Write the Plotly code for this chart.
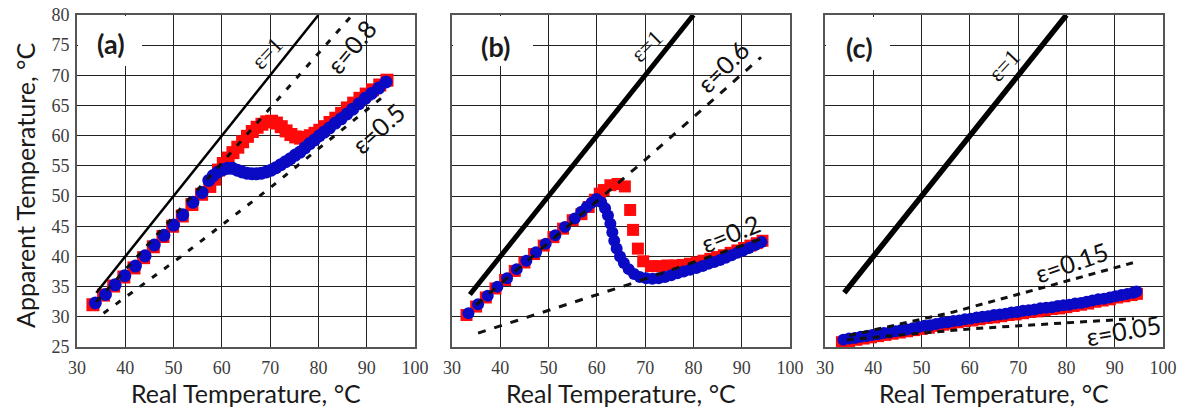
import plotly.graph_objects as go

W, H = 1189, 412

# ---------------- panel (a) ----------------
a_red_x = [33.3, 35.5, 37.6, 39.7, 41.8, 43.8, 45.8, 47.8, 49.8, 51.8, 53.8, 55.8, 57.5, 58.5,
           59.3, 60.3, 61.3, 62.3, 63.3, 64.3, 65.3, 66.3, 67.3, 68.3, 69.3, 70.3, 71.3, 72.3,
           73.3, 74.3, 75.3, 76.3, 77.3, 78.3, 79.3, 80.3, 81.3, 82.4, 83.6, 84.8, 86.0, 87.3,
           88.6, 89.9, 91.2, 92.7, 94.2]
a_red_y = [32.0, 33.6, 35.1, 36.6, 38.1, 39.8, 41.6, 43.3, 45.0, 46.7, 48.6, 50.3, 51.6, 52.8,
           54.3, 55.4, 56.3, 57.2, 58.1, 59.0, 59.9, 60.7, 61.4, 61.9, 62.3, 62.4, 62.1, 61.5,
           60.8, 60.2, 59.8, 59.6, 59.7, 60.0, 60.4, 60.9, 61.5, 62.2, 62.9, 63.7, 64.6, 65.4,
           66.2, 66.9, 67.6, 68.4, 69.2]
a_blue_x = [33.8, 35.9, 37.9, 39.9, 42.1, 44.1, 46.0, 48.0, 50.0, 51.9, 54.0, 55.9, 57.3, 58.2,
            59.2, 60.2, 61.2, 62.2, 63.2, 64.2, 65.2, 66.2, 67.2, 68.2, 69.2, 70.2, 71.2, 72.2,
            73.2, 74.2, 75.2, 76.2, 77.2, 78.2, 79.2, 80.2, 81.2, 82.3, 83.5, 84.7, 85.9, 87.1,
            88.4, 89.7, 91.0, 92.5, 94.0]
a_blue_y = [32.3, 33.7, 35.3, 36.8, 38.4, 40.1, 41.9, 43.5, 45.2, 46.9, 49.0, 50.6, 52.6, 53.4,
            54.0, 54.4, 54.6, 54.6, 54.3, 54.0, 53.8, 53.7, 53.7, 53.8, 54.0, 54.3, 54.7, 55.2,
            55.7, 56.2, 56.8, 57.3, 58.0, 58.7, 59.3, 60.0, 60.6, 61.3, 62.1, 62.8, 63.6, 64.4,
            65.3, 66.2, 67.0, 67.9, 68.9]
a_eps1_x, a_eps1_y = [34.0, 80.0], [34.0, 80.0]
a_eps08_x, a_eps08_y = [34.0, 60.0, 87.0], [32.5, 55.5, 80.0]
a_eps05_x, a_eps05_y = [35.5, 51.4, 69.4, 83.1, 94.2], [30.6, 39.9, 51.0, 59.8, 67.0]

# ---------------- panel (b) ----------------
b_red_x = [33.0, 35.0, 37.0, 39.0, 41.0, 43.0, 45.0, 47.0, 49.0, 51.0, 53.0, 55.0, 56.8, 58.3,
           59.6, 60.6, 61.4, 62.8, 64.3, 65.8, 66.9, 67.5, 68.5, 69.6, 71.2, 72.9, 74.6, 76.3,
           77.8, 79.3, 80.7, 82.1, 83.5, 84.9, 86.3, 87.7, 89.1, 90.5, 91.8, 93.1, 94.3]
b_red_y = [30.3, 31.7, 33.2, 34.7, 36.1, 37.6, 39.0, 40.4, 41.8, 43.2, 44.6, 46.0, 47.0, 48.2,
           49.4, 50.4, 51.0, 51.8, 52.0, 51.6, 47.7, 44.4, 41.3, 39.2, 38.4, 38.4, 38.5, 38.5,
           38.6, 38.8, 39.0, 39.3, 39.6, 39.9, 40.2, 40.6, 41.0, 41.4, 41.8, 42.2, 42.6]
b_blue_x = [33.4, 35.4, 37.4, 39.4, 41.4, 43.4, 45.4, 47.4, 49.4, 51.4, 53.4, 55.4, 56.8, 57.9,
            58.9, 59.9, 60.9, 61.7, 62.3, 62.8, 63.2, 63.6, 64.1, 64.8, 65.6, 66.6, 67.7, 68.9,
            70.2, 71.5, 72.8, 74.1, 75.4, 76.7, 78.0, 79.3, 80.6, 81.9, 83.1, 84.3, 85.5, 86.7,
            87.9, 89.1, 90.3, 91.5, 92.8, 94.1]
b_blue_y = [30.6, 32.1, 33.5, 35.0, 36.4, 37.9, 39.3, 40.7, 42.1, 43.5, 44.9, 46.3, 47.4, 48.2,
            48.9, 49.5, 49.0, 48.0, 46.8, 45.4, 44.0, 42.6, 41.3, 40.0, 38.9, 37.9, 37.1, 36.6,
            36.4, 36.3, 36.4, 36.6, 36.9, 37.2, 37.5, 37.8, 38.1, 38.4, 38.8, 39.1, 39.4, 39.8,
            40.2, 40.6, 41.0, 41.4, 41.9, 42.4]
b_eps1_x, b_eps1_y = [33.7, 80.0], [33.7, 80.0]
b_eps06_x, b_eps06_y = [35.0, 70.0, 94.0], [32.0, 56.0, 73.0]
b_eps02_x, b_eps02_y = [35.4, 67.5, 94.4], [27.3, 35.6, 43.0]

# ---------------- panel (c) ----------------
c_red_x = [33.5, 35.0, 36.5, 38.0, 39.5, 41.0, 42.5, 44.0, 45.5, 47.0, 48.5, 50.0, 51.5, 53.0,
           54.5, 56.0, 57.5, 59.0, 60.5, 62.0, 63.5, 65.0, 66.5, 68.0, 69.5, 71.0, 72.5, 74.0,
           75.5, 77.0, 78.5, 80.0, 81.5, 83.0, 84.5, 86.0, 87.5, 89.0, 90.5, 92.0, 93.5, 94.6]
c_red_y = [25.8, 26.0, 26.2, 26.4, 26.6, 26.8, 27.0, 27.2, 27.4, 27.6, 27.8, 28.0, 28.2, 28.5,
           28.7, 28.9, 29.1, 29.3, 29.4, 29.6, 29.8, 29.9, 30.1, 30.3, 30.4, 30.6, 30.8, 30.9,
           31.1, 31.3, 31.4, 31.6, 31.8, 32.0, 32.2, 32.5, 32.7, 32.9, 33.2, 33.4, 33.6, 33.8]
c_blue_x = [33.8, 35.0, 36.2, 37.4, 38.6, 39.8, 41.0, 42.2, 43.4, 44.6, 45.8, 47.0, 48.2, 49.4,
            50.6, 51.8, 53.0, 54.2, 55.4, 56.6, 57.8, 59.0, 60.2, 61.4, 62.6, 63.8, 65.0, 66.2,
            67.4, 68.6, 69.8, 71.0, 72.2, 73.4, 74.6, 75.8, 77.0, 78.2, 79.4, 80.6, 81.8, 83.0,
            84.2, 85.4, 86.6, 87.8, 89.0, 90.2, 91.4, 92.6, 93.8, 94.5]
c_blue_y = [26.2, 26.4, 26.5, 26.7, 26.8, 27.0, 27.1, 27.3, 27.4, 27.6, 27.8, 27.9, 28.1, 28.3,
            28.5, 28.6, 28.8, 29.0, 29.1, 29.3, 29.4, 29.6, 29.7, 29.9, 30.0, 30.1, 30.3, 30.4,
            30.5, 30.7, 30.8, 31.0, 31.1, 31.2, 31.4, 31.5, 31.6, 31.8, 31.9, 32.0, 32.2, 32.3,
            32.5, 32.7, 32.9, 33.0, 33.2, 33.4, 33.6, 33.8, 34.0, 34.2]
c_eps1_x, c_eps1_y = [34.0, 80.0], [34.0, 80.0]
c_eps015_x, c_eps015_y = [35.0, 56.6, 77.2, 94.0], [26.9, 30.8, 35.3, 39.0]
c_eps005_x, c_eps005_y = [34.5, 60.0, 80.0, 94.0], [26.2, 28.0, 29.0, 29.7]

x_ticks = [30, 40, 50, 60, 70, 80, 90, 100]
y_ticks = [25, 30, 35, 40, 45, 50, 55, 60, 65, 70, 75, 80]

RED = "#ff0a0a"
BLUE = "#0a0ac4"
SANS = "Lato"
SERIF = "Liberation Serif"

fig = go.Figure()


def add_panel(n, red, blue, solid, solid_w, dashed, msize, dash_pat):
    xa = "x" if n == 1 else f"x{n}"
    ya = "y" if n == 1 else f"y{n}"
    fig.add_trace(go.Scatter(x=red[0], y=red[1], xaxis=xa, yaxis=ya, mode="markers",
                             marker=dict(symbol="square", size=msize, color=RED, line_width=0),
                             showlegend=False, hoverinfo="skip"))
    fig.add_trace(go.Scatter(x=blue[0], y=blue[1], xaxis=xa, yaxis=ya, mode="markers",
                             marker=dict(symbol="circle", size=msize, color=BLUE, line_width=0),
                             showlegend=False, hoverinfo="skip"))
    for dx, dy in dashed:
        fig.add_trace(go.Scatter(x=dx, y=dy, xaxis=xa, yaxis=ya, mode="lines",
                                 line=dict(color="#111111", width=3, dash=dash_pat),
                                 showlegend=False, hoverinfo="skip"))
    fig.add_trace(go.Scatter(x=solid[0], y=solid[1], xaxis=xa, yaxis=ya, mode="lines",
                             line=dict(color="#000000", width=solid_w),
                             showlegend=False, hoverinfo="skip"))


add_panel(1, (a_red_x, a_red_y), (a_blue_x, a_blue_y), (a_eps1_x, a_eps1_y), 2.5,
          [(a_eps08_x, a_eps08_y), (a_eps05_x, a_eps05_y)], 13, "6px,9px")
add_panel(2, (b_red_x, b_red_y), (b_blue_x, b_blue_y), (b_eps1_x, b_eps1_y), 5,
          [(b_eps06_x, b_eps06_y), (b_eps02_x, b_eps02_y)], 12, "8px,9px")
add_panel(3, (c_red_x, c_red_y), (c_blue_x, c_blue_y), (c_eps1_x, c_eps1_y), 5.5,
          [(c_eps015_x, c_eps015_y), (c_eps005_x, c_eps005_y)], 12, "7px,6px")

# panel placement in pixels (left, right), shared top/bottom
panels = [(77, 415), (452, 790), (825, 1163)]
top_px, bot_px = 15, 347

axis_common = dict(showgrid=True, gridcolor="#222222", gridwidth=1.3, zeroline=False,
                   showline=True, linecolor="#555555", linewidth=2, mirror=True, ticks="",
                   automargin=False)
layout = {}
for i, (l, r) in enumerate(panels, start=1):
    xk = "xaxis" if i == 1 else f"xaxis{i}"
    yk = "yaxis" if i == 1 else f"yaxis{i}"
    layout[xk] = dict(axis_common, domain=[l / W, r / W], range=[30, 100],
                      tickvals=x_ticks, ticktext=[str(v) for v in x_ticks],
                      tickfont=dict(family=SERIF, size=18, color="#3c3c3c"),
                      ticklabelstandoff=3,
                      anchor="y" if i == 1 else f"y{i}")
    layout[yk] = dict(axis_common, domain=[(H - bot_px) / H, (H - top_px) / H], range=[25, 80],
                      tickvals=y_ticks, showticklabels=(i == 1),
                      tickfont=dict(family=SERIF, size=18, color="#3c3c3c"),
                      ticklabelstandoff=2,
                      anchor="x" if i == 1 else f"x{i}")

# white boxes behind the panel letters
shapes = []
for (x0, x1, y0, y1) in [(78, 142, 16, 66), (453, 533, 16, 66), (826, 890, 17, 70)]:
    shapes.append(dict(type="rect", xref="paper", yref="paper",
                       x0=x0 / W, x1=x1 / W, y0=(H - y1) / H, y1=(H - y0) / H,
                       fillcolor="white", line_width=0, layer="above"))

annotations = []
for txt, cx, cy in [("(a)", 111, 44), ("(b)", 495, 47), ("(c)", 859, 48)]:
    annotations.append(dict(text=f"<b>{txt}</b>", xref="paper", yref="paper",
                            x=cx / W, y=(H - cy) / H, showarrow=False,
                            xanchor="center", yanchor="middle",
                            font=dict(family=SANS, size=27, color="#1b1b1b")))

# emissivity labels, placed in data coordinates of each panel
eps_labels = [
    (1, "ε=1", 69.3, 73.7, -47, SERIF, 23),
    (1, "ε=0.8", 86.9, 74.8, -50, SANS, 25),
    (1, "ε=0.5", 92.4, 61.2, -42, SANS, 25),
    (2, "ε=1", 70.3, 74.8, -45, SERIF, 23),
    (2, "ε=0.6", 86.1, 71.6, -45, SANS, 25),
    (2, "ε=0.2", 87.7, 43.9, -22, SANS, 25),
    (3, "ε=1", 67.1, 71.7, -47, SERIF, 23),
    (3, "ε=0.15", 81.1, 39.0, -19, SANS, 25),
    (3, "ε=0.05", 91.9, 27.8, -10, SANS, 25),
]
for n, txt, x, y, ang, fam, sz in eps_labels:
    annotations.append(dict(text=txt, x=x, y=y, showarrow=False, textangle=ang,
                            xanchor="center", yanchor="middle",
                            xref="x" if n == 1 else f"x{n}", yref="y" if n == 1 else f"y{n}",
                            font=dict(family=fam, size=sz, color="#111111")))

# axis titles
for (l, r) in panels:
    annotations.append(dict(text="Real Temperature, °C", xref="paper", yref="paper",
                            x=(l + r) / 2 / W, y=(H - 393) / H, showarrow=False,
                            xanchor="center", yanchor="middle",
                            font=dict(family=SANS, size=25, color="#1a1a1a")))
annotations.append(dict(text="Apparent Temperature, °C", xref="paper", yref="paper",
                        x=25 / W, y=(H - 186) / H, showarrow=False, textangle=-90,
                        xanchor="center", yanchor="middle",
                        font=dict(family=SANS, size=25, color="#1a1a1a")))

fig.update_layout(width=W, height=H, margin=dict(l=0, r=0, t=0, b=0),
                  paper_bgcolor="white", plot_bgcolor="white",
                  shapes=shapes, annotations=annotations, **layout)

fig.write_html("out.html")
